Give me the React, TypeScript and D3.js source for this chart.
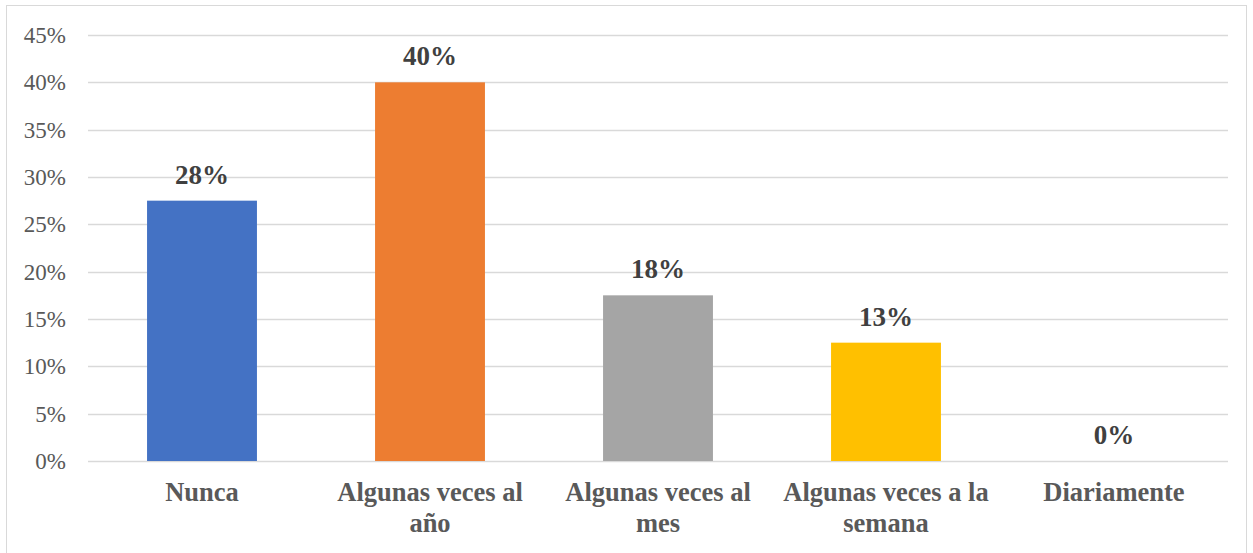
import React, { useEffect, useRef } from "react";
import * as d3 from "d3";

const categories = ["Nunca", "Algunas veces al año", "Algunas veces al mes", "Algunas veces a la semana", "Diariamente"];
const values = [0.275, 0.4, 0.175, 0.125, 0];
const barColors = ["#4472C4", "#ED7D31", "#A5A5A5", "#FFC000", "#5B9BD5"];
const yTicks = [0, 0.05, 0.1, 0.15, 0.2, 0.25, 0.3, 0.35, 0.4, 0.45];

const W = 1253;
const H = 553;
const FONT = "'Liberation Serif', 'Times New Roman', serif";

function wrapWords(text: string, maxWidth: number, font: string): string[] {
  const canvas = document.createElement("canvas");
  const ctx = canvas.getContext("2d")!;
  ctx.font = font;
  const words = text.split(" ");
  const lines: string[] = [];
  let cur = "";
  for (const w of words) {
    const test = cur ? cur + " " + w : w;
    if (ctx.measureText(test).width > maxWidth && cur) {
      lines.push(cur);
      cur = w;
    } else cur = test;
  }
  if (cur) lines.push(cur);
  return lines;
}

export default function App() {
  const ref = useRef<SVGSVGElement>(null);
  useEffect(() => {
    const svg = d3.select(ref.current);
    svg.selectAll("*").remove();
    const left = 88, right = 1228, top = 35, bottom = 461;

    svg.append("rect").attr("x", 6.5).attr("y", 5.5).attr("width", W - 13).attr("height", H - 5)
      .attr("fill", "#fff").attr("stroke", "#D9D9D9").attr("stroke-width", 1);

    const x = d3.scaleBand<string>().domain(categories).range([left, right]).paddingInner(0.518).paddingOuter(0.259);
    const y = d3.scaleLinear().domain([0, 0.45]).range([bottom, top]);

    svg.append("g").selectAll("line").data(yTicks).join("line")
      .attr("x1", left).attr("x2", right)
      .attr("y1", (d) => Math.round(y(d)) + 0.5).attr("y2", (d) => Math.round(y(d)) + 0.5)
      .attr("stroke", "#D9D9D9").attr("stroke-width", 1.3);

    svg.append("g").selectAll("text").data(yTicks).join("text")
      .attr("x", 66).attr("y", (d) => y(d)).attr("dy", "0.35em")
      .attr("text-anchor", "end").attr("font-family", FONT).attr("font-size", 23)
      .attr("fill", "#595959").text((d) => d3.format(".0%")(d));

    svg.append("g").selectAll("rect").data(values).join("rect")
      .attr("x", (_, i) => x(categories[i])!).attr("width", x.bandwidth())
      .attr("y", (d) => y(d)).attr("height", (d) => bottom - y(d))
      .attr("fill", (_, i) => barColors[i]);

    svg.append("g").selectAll("text").data(values).join("text")
      .attr("x", (_, i) => x(categories[i])! + x.bandwidth() / 2)
      .attr("y", (d) => y(d) - 17)
      .attr("text-anchor", "middle").attr("font-family", FONT).attr("font-size", 27)
      .attr("font-weight", "bold").attr("fill", "#404040")
      .text((d) => d3.format(".0%")(d));

    const labelFont = `bold 26.5px ${FONT}`;
    const g = svg.append("g");
    categories.forEach((c) => {
      const lines = wrapWords(c, 222, labelFont);
      const t = g.append("text").attr("text-anchor", "middle").attr("font-family", FONT)
        .attr("font-size", 26.5).attr("font-weight", "bold").attr("fill", "#595959");
      lines.forEach((ln, k) => {
        t.append("tspan").attr("x", x(c)! + x.bandwidth() / 2).attr("y", 501 + k * 31).text(ln);
      });
    });
  }, []);
  return (
    <svg ref={ref} width={W} height={H} style={{ position: "absolute", left: 0, top: 0 }} />
  );
}
